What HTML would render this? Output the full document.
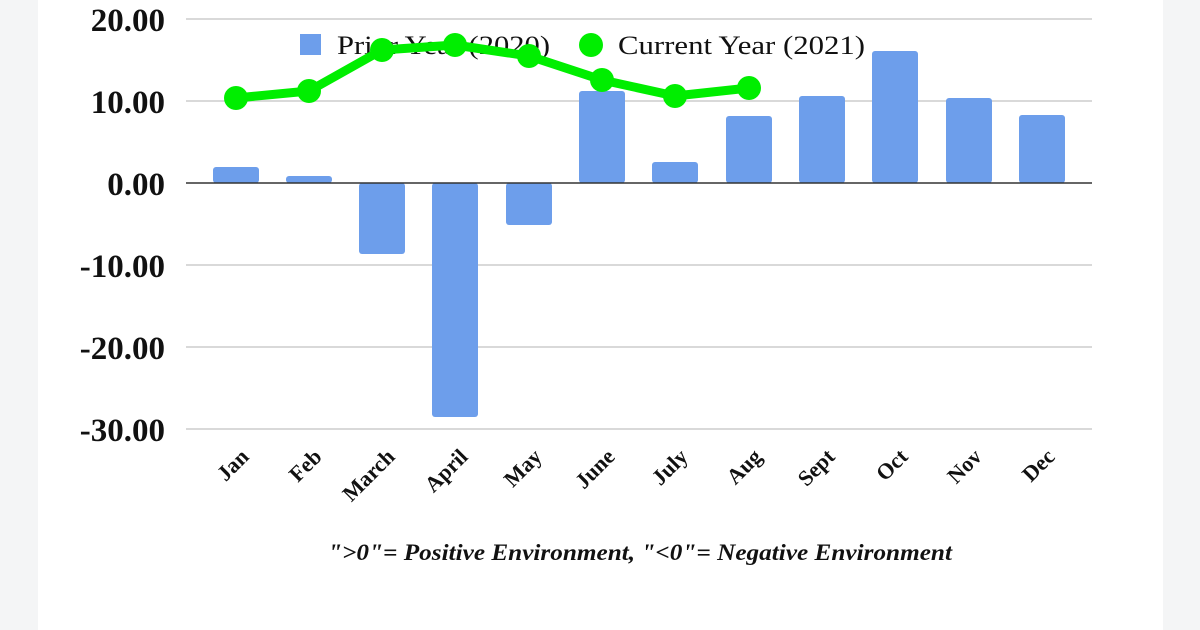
<!DOCTYPE html><html><head><style>body{margin:0;width:1200px;height:630px;background:#f4f5f6;overflow:hidden}</style></head><body>
<svg width="1200" height="630" xmlns="http://www.w3.org/2000/svg" style="position:absolute;left:0;top:0">
<rect x="0" y="0" width="1200" height="630" fill="#f4f5f6"/>
<rect x="38" y="0" width="1125" height="630" fill="#ffffff"/>
<g stroke="#d9d9d9" stroke-width="2">
<line x1="186" x2="1092" y1="19" y2="19"/><line x1="186" x2="1092" y1="101" y2="101"/>
<line x1="186" x2="1092" y1="265" y2="265"/><line x1="186" x2="1092" y1="347" y2="347"/><line x1="186" x2="1092" y1="429" y2="429"/></g>
<g font-family="Liberation Serif,serif" font-weight="bold" font-size="33" text-anchor="end" fill="#111">
<text x="165" y="31">20.00</text><text x="165" y="113">10.00</text><text x="165" y="195">0.00</text>
<text x="165" y="277">-10.00</text><text x="165" y="359">-20.00</text><text x="165" y="441">-30.00</text></g>
<g fill="#6d9eeb">
<rect x="213" y="167" width="46" height="16" rx="3"/><rect x="286" y="176" width="46" height="7" rx="3"/>
<rect x="359" y="183" width="46" height="71" rx="3"/><rect x="432" y="183" width="46" height="234" rx="3"/>
<rect x="506" y="183" width="46" height="42" rx="3"/><rect x="579" y="91" width="46" height="92" rx="3"/>
<rect x="652" y="162" width="46" height="21" rx="3"/><rect x="726" y="116" width="46" height="67" rx="3"/>
<rect x="799" y="96" width="46" height="87" rx="3"/><rect x="872" y="51" width="46" height="132" rx="3"/>
<rect x="946" y="98" width="46" height="85" rx="3"/><rect x="1019" y="115" width="46" height="68" rx="3"/></g>
<line x1="186" x2="1092" y1="183" y2="183" stroke="#333" stroke-width="1.5"/>
<g fill="#111" font-family="Liberation Serif,serif" font-size="26">
<rect x="300" y="34" width="21" height="21" fill="#6d9eeb"/><text x="337" y="54" textLength="213" lengthAdjust="spacingAndGlyphs">Prior Year (2020)</text>
<circle cx="591" cy="45" r="12" fill="#00ee00"/><text x="618" y="54" textLength="247" lengthAdjust="spacingAndGlyphs">Current Year (2021)</text></g>
<polyline points="236,98 309,91 382,50 455,45 529,56 602,80 675,96 749,88" fill="none" stroke="#00ee00" stroke-width="9" stroke-linejoin="round"/>
<g fill="#00ee00"><circle cx="236" cy="98" r="12"/><circle cx="309" cy="91" r="12"/><circle cx="382" cy="50" r="12"/><circle cx="455" cy="45" r="12"/><circle cx="529" cy="56" r="12"/><circle cx="602" cy="80" r="12"/><circle cx="675" cy="96" r="12"/><circle cx="749" cy="88" r="12"/></g>
<g font-family="Liberation Serif,serif" font-weight="bold" font-size="22" text-anchor="end" fill="#111">
<text transform="translate(250,458) rotate(-45)">Jan</text><text transform="translate(323,458) rotate(-45)">Feb</text>
<text transform="translate(396,458) rotate(-45)">March</text><text transform="translate(469,458) rotate(-45)">April</text>
<text transform="translate(543,458) rotate(-45)">May</text><text transform="translate(616,458) rotate(-45)">June</text>
<text transform="translate(689,458) rotate(-45)">July</text><text transform="translate(763,458) rotate(-45)">Aug</text>
<text transform="translate(836,458) rotate(-45)">Sept</text><text transform="translate(909,458) rotate(-45)">Oct</text>
<text transform="translate(983,458) rotate(-45)">Nov</text><text transform="translate(1056,458) rotate(-45)">Dec</text></g>
<text x="328" y="560" textLength="624" lengthAdjust="spacingAndGlyphs" font-family="Liberation Serif,serif" font-weight="bold" font-style="italic" font-size="23" fill="#111">"&gt;0"= Positive Environment, "&lt;0"= Negative Environment</text>
</svg></body></html>
